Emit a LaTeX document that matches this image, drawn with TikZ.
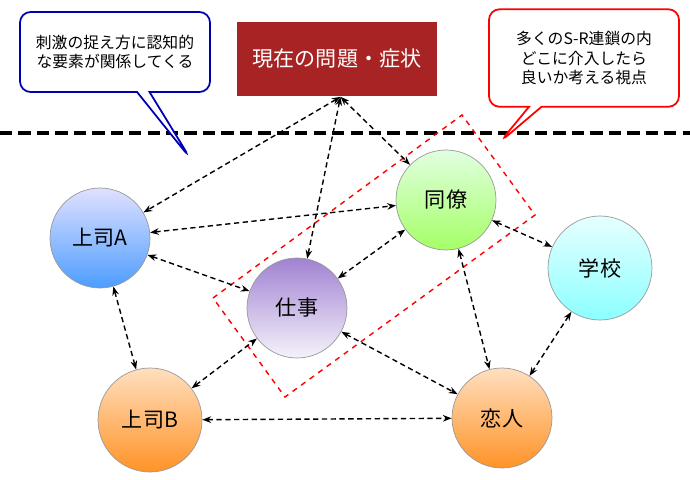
\documentclass[tikz,border=0pt]{standalone}
\usepackage{fontspec}
\setmainfont{Noto Sans CJK JP}
\usetikzlibrary{arrows.meta,shapes.callouts}
\tikzstyle{person} = [circle, minimum size=2cm, draw=white!60!black, line width=0.4pt, font=\large]
\tikzstyle{link} = [draw, densely dashed, line width=0.8pt, {Stealth[length=5pt]}-{Stealth[length=5pt]}]
\tikzstyle{note} = [rectangle callout, rounded corners=6pt, fill=white, line width=1pt, align=center, font=\small, inner sep=6pt]
\definecolor{problemred}{RGB}{168,36,36}
\definecolor{lavender}{RGB}{160,130,210}
\begin{document}
\begin{tikzpicture}[x=0.02cm, y=-0.02cm]
  \useasboundingbox (0,0) rectangle (690,480);

  \draw [dash pattern=on 7pt off 3.5pt, line width=2pt] (0,133) -- (690,133);

  \node [note, draw=blue!70!black, minimum width=3.8cm, minimum height=1.6cm, callout absolute pointer={(190,158)}] (hintleft) at (115,52) {刺激の捉え方に認知的\\な要素が関係してくる};
  \node [note, draw=red, minimum width=3.8cm, minimum height=1.95cm, callout absolute pointer={(500,142)}] (hintright) at (584,58) {多くのS-R連鎖の内\\どこに介入したら\\良いか考える視点};
  \node [fill=problemred, text=white, minimum width=4cm, minimum height=1.5cm, font=\large] (problem) at (337,59) {現在の問題・症状};

  % red frame around work and colleague
  \draw [red, dashed, line width=0.8pt] (213,298) -- (462,115) -- (535,215) -- (285,397) -- cycle;

  \node [person, top color=blue!12, bottom color=blue!55!cyan!70] (bossA) at (100,238) {上司A};
  \node [person, top color=lavender, bottom color=lavender!10] (work) at (297,308) {仕事};
  \node [person, top color=green!12!white, bottom color=green!45!lime!60] (peer) at (446,200) {同僚};
  \node [person, minimum size=2.08cm, top color=cyan!10, bottom color=cyan!45] (school) at (600,268) {学校};
  \node [person, minimum size=2.08cm, top color=orange!25, bottom color=orange!85] (bossB) at (150,420) {上司B};
  \node [person, top color=orange!25, bottom color=orange!85] (lover) at (502,418) {恋人};

  \draw [link] ([xshift=2pt]problem.south) -- (bossA);
  \draw [link] ([xshift=2pt]problem.south) -- (work);
  \draw [link] ([xshift=2pt]problem.south) -- (peer);
  \draw [link] (bossA) -- (peer);
  \draw [link] (bossA) -- (work);
  \draw [link] (work) -- (peer);
  \draw [link] (bossA) -- (bossB);
  \draw [link] (bossB) -- (work);
  \draw [link] (bossB) -- (lover);
  \draw [link] (work) -- (lover);
  \draw [link] (peer) -- (lover);
  \draw [link] (peer) -- (school);
  \draw [link] (school) -- (lover);
\end{tikzpicture}
\end{document}
